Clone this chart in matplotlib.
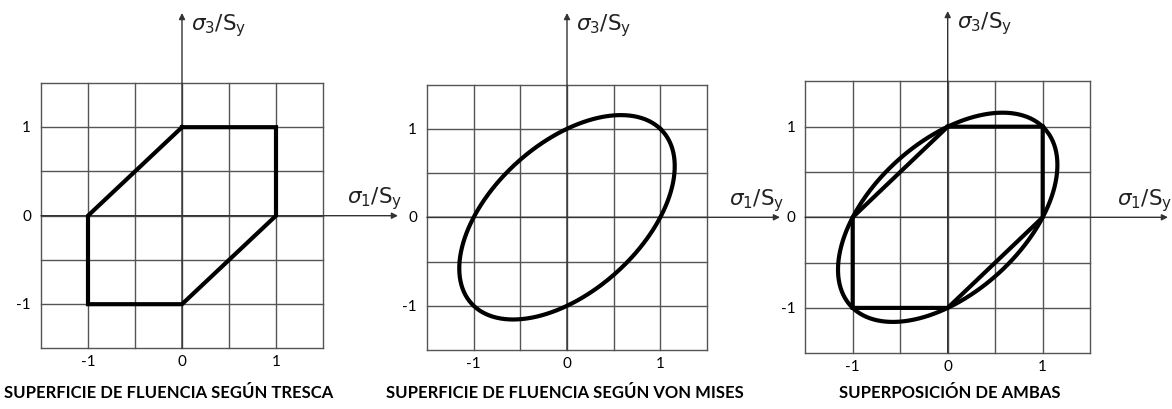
import numpy as np
import matplotlib
matplotlib.use('Agg')
import matplotlib.pyplot as plt

plt.rcParams['font.family'] = ['Lato', 'DejaVu Sans']
plt.rcParams['mathtext.fontset'] = 'dejavusans'

W, H = 1172, 410

# criterio de Tresca en el plano sigma1-sigma3 (vértices del hexágono)
tresca_s1 = [0, 1, 1, 0, -1, -1, 0]
tresca_s3 = [1, 1, 0, -1, -1, 0, 1]

# criterio de von Mises: s1^2 - s1*s3 + s3^2 = (Sy)^2
sy_ratio = 1.0

tick_vals = [-1, 0, 1]
tick_labels = ['-1', '0', '1']
grid_vals = [-1.5, -1, -0.5, 0, 0.5, 1, 1.5]

titles = ['SUPERFICIE DE FLUENCIA SEGÚN TRESCA',
          'SUPERFICIE DE FLUENCIA SEGÚN VON MISES',
          'SUPERPOSICIÓN DE AMBAS']

# (izq, der, origen x, origen y, px por unidad x, px por unidad y, fin eje x, tope eje y, centro título)
panels = [
    (0, 390, 182.0, 216.7, 94.0, 88.5, 398, 14, 169),
    (390, 780, 567.0, 218.3, 93.3, 88.5, 780, 14, 565),
    (780, 1172, 947.7, 218.3, 95.0, 90.6, 1168, 12, 950),
]

def von_mises(n=400):
    t = np.linspace(0, 2 * np.pi, n)
    # ejes principales a 45 grados
    a = np.sqrt(2.0) * sy_ratio
    b = np.sqrt(2.0 / 3.0) * sy_ratio
    u = a * np.cos(t)
    v = b * np.sin(t)
    s1 = (u - v) / np.sqrt(2.0)
    s3 = (u + v) / np.sqrt(2.0)
    return s1, s3

fig = plt.figure(figsize=(W / 100, H / 100), dpi=100)

for i, (l, r, ox, oy, ux, uy, xend, ytop, tcx) in enumerate(panels):
    ax = fig.add_axes([l / W, 0, (r - l) / W, 1])
    ax.set_xlim((l - ox) / ux, (r - ox) / ux)
    ax.set_ylim((oy - H) / uy, oy / uy)
    ax.axis('off')

    # cuadrícula
    for g in grid_vals:
        ax.plot([g, g], [-1.5, 1.5], color='#555555', lw=1.0, zorder=1)
        ax.plot([-1.5, 1.5], [g, g], color='#555555', lw=1.0, zorder=1)

    # ejes con flecha
    x_end = (xend - ox) / ux
    y_top = (oy - ytop) / uy
    ax.annotate('', xy=(x_end, 0), xytext=(-1.5, 0),
                arrowprops=dict(arrowstyle='-|>', color='#333333', lw=1.0,
                                mutation_scale=9, shrinkA=0, shrinkB=0),
                annotation_clip=False, zorder=2)
    ax.annotate('', xy=(0, y_top), xytext=(0, -1.5),
                arrowprops=dict(arrowstyle='-|>', color='#333333', lw=1.0,
                                mutation_scale=9, shrinkA=0, shrinkB=0),
                annotation_clip=False, zorder=2)

    ax.text(x_end - 51 / ux, 18 / uy, r'$\sigma_{1}/\mathrm{S}_{\mathrm{y}}$',
            fontsize=15.5, color='#222222', ha='left', va='center')
    ax.text(9 / ux, y_top - 12 / uy, r'$\sigma_{3}/\mathrm{S}_{\mathrm{y}}$',
            fontsize=15.5, color='#222222', ha='left', va='center')

    # etiquetas de los ejes
    for v, s in zip(tick_vals, tick_labels):
        ax.text(-1.5 - 10 / ux, v, s, fontsize=11, ha='right', va='center')
        ax.text(v, -1.5 - 13 / uy, s, fontsize=11, ha='center', va='center')

    if i in (0, 2):
        ax.plot(tresca_s1, tresca_s3, color='black', lw=3.0, zorder=3,
                solid_joinstyle='miter')
    if i in (1, 2):
        s1, s3 = von_mises()
        ax.plot(s1, s3, color='black', lw=3.0, zorder=3)

    ax.text((tcx - ox) / ux, (oy - 393) / uy, titles[i], fontsize=12,
            fontweight='bold', ha='center', va='center')

fig.savefig('out.png', dpi=100)
